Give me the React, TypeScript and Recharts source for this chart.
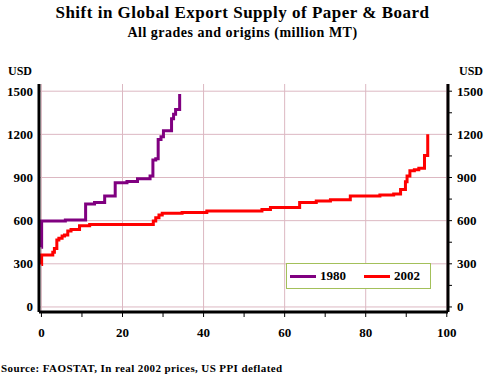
import React from "react";
import { LineChart, Line, XAxis, YAxis, CartesianGrid } from "recharts";

// Series 1980: cumulative export supply (million MT) vs price (USD)
const supply1980 = [0, 0.05, 5.9, 10.9, 13.1, 15.6, 18.2, 21.1, 23.7, 26.8, 27.5, 28.2, 28.8, 29.5, 30.1, 32.1, 32.6, 33.1, 34.1];
const usd1980 = [415, 597, 604, 715, 727, 771, 863, 873, 891, 910, 1021, 1030, 1164, 1183, 1225, 1308, 1340, 1373, 1480];

// Series 2002
const supply2002 = [0, 0.05, 2.8, 3.2, 3.8, 4.3, 5.1, 5.7, 6.5, 7.3, 9.4, 11.9, 27.6, 28.2, 29.0, 29.8, 34.7, 40.8, 54.4, 56.5, 63.7, 67.8, 71.3, 76.2, 83.5, 86.9, 88.6, 89.8, 90.2, 90.9, 92.0, 93.1, 94.5, 95.3];
const usd2002 = [296, 361, 380, 407, 465, 477, 493, 500, 528, 539, 565, 574, 597, 620, 639, 651, 657, 667, 678, 692, 727, 736, 745, 771, 778, 785, 817, 870, 910, 947, 954, 965, 1053, 1200];

const xTicks = [0, 10, 20, 30, 40, 50, 60, 70, 80, 90, 100];
const xLabelTicks = [0, 20, 40, 60, 80, 100];
const yTicks = [0, 300, 600, 900, 1200, 1500];
const yMinorTicks = [0, 150, 300, 450, 600, 750, 900, 1050, 1200, 1350, 1500];

const seriesNames = ["1980", "2002"];
const seriesColors = ["#800080", "#ff0000"];

const data1980 = supply1980.map((x, i) => ({ x, y: usd1980[i] }));
const data2002 = supply2002.map((x, i) => ({ x, y: usd2002[i] }));

const FONT = "'Liberation Serif', 'Times New Roman', serif";

const BottomTick = (props: any) => {
  const { x, y, payload } = props;
  if (!xLabelTicks.includes(payload.value)) return <g />;
  return (
    <text x={x} y={y + 20} textAnchor="middle" fontFamily={FONT} fontWeight="bold" fontSize={13} fill="#000">
      {payload.value}
    </text>
  );
};

const LeftTick = (props: any) => {
  const { x, y, payload } = props;
  return (
    <text x={x} y={y + 4.5} textAnchor="end" fontFamily={FONT} fontWeight="bold" fontSize={13} fill="#000">
      {payload.value}
    </text>
  );
};

const RightTick = (props: any) => {
  const { x, y, payload } = props;
  if (!yTicks.includes(payload.value)) return <g />;
  return (
    <text x={x} y={y + 4.5} textAnchor="start" fontFamily={FONT} fontWeight="bold" fontSize={13} fill="#000">
      {payload.value}
    </text>
  );
};

export default function App() {
  const xDomain: [number, number] = [-0.6, 100.3];
  const yDomain: [number, number] = [-35, 1550];
  return (
    <div style={{ position: "absolute", left: 0, top: 0, width: 495, height: 376, background: "#fff", fontFamily: FONT }}>
      <div style={{ position: "absolute", left: 0, top: 3, width: 485, textAlign: "center", fontWeight: "bold", fontSize: 17, letterSpacing: 0.5 }}>
        Shift in Global Export Supply of Paper &amp; Board
      </div>
      <div style={{ position: "absolute", left: 0, top: 25, width: 485, textAlign: "center", fontWeight: "bold", fontSize: 14, letterSpacing: 0.5 }}>
        All grades and origins (million MT)
      </div>
      <div style={{ position: "absolute", left: 8, top: 64, fontWeight: "bold", fontSize: 12 }}>USD</div>
      <div style={{ position: "absolute", left: 459, top: 64, fontWeight: "bold", fontSize: 12 }}>USD</div>
      <LineChart width={495} height={376} data={data2002} margin={{ top: 84, right: 0, bottom: 0, left: 0 }}>
        <CartesianGrid stroke="#dcb8c2" strokeWidth={1} horizontalValues={yTicks} verticalValues={xLabelTicks} />
        <XAxis
          type="number"
          dataKey="x"
          domain={xDomain}
          allowDataOverflow
          ticks={xTicks}
          interval={0}
          height={64}
          tickSize={5}
          tickMargin={0}
          axisLine={{ stroke: "#000", strokeWidth: 3 }}
          tickLine={{ stroke: "#000", strokeWidth: 1 }}
          tick={<BottomTick />}
        />
        <XAxis
          xAxisId="top"
          orientation="top"
          type="number"
          dataKey="x"
          domain={xDomain}
          allowDataOverflow
          height={0}
          tick={false}
          tickLine={false}
          axisLine={{ stroke: "#000", strokeWidth: 3 }}
        />
        <YAxis
          type="number"
          domain={yDomain}
          allowDataOverflow
          ticks={yTicks}
          interval={0}
          width={39}
          tickSize={0}
          tickMargin={6}
          tickLine={false}
          axisLine={{ stroke: "#000", strokeWidth: 3 }}
          tick={<LeftTick />}
        />
        <YAxis
          yAxisId="right"
          orientation="right"
          type="number"
          domain={yDomain}
          allowDataOverflow
          ticks={yMinorTicks}
          interval={0}
          width={47}
          tickSize={4}
          tickMargin={5}
          tickLine={{ stroke: "#000", strokeWidth: 1 }}
          axisLine={{ stroke: "#000", strokeWidth: 3 }}
          tick={<RightTick />}
        />
        <Line
          data={data1980}
          dataKey="y"
          name={seriesNames[0]}
          type="stepAfter"
          stroke={seriesColors[0]}
          strokeWidth={3}
          dot={false}
          isAnimationActive={false}
        />
        <Line
          data={data2002}
          dataKey="y"
          name={seriesNames[1]}
          type="stepAfter"
          stroke={seriesColors[1]}
          strokeWidth={3}
          dot={false}
          isAnimationActive={false}
        />
      </LineChart>
      <div
        style={{
          position: "absolute",
          left: 286,
          top: 263,
          width: 143,
          height: 24,
          border: "1px solid #a3c05a",
          background: "#fff",
          fontWeight: "bold",
          fontSize: 13,
        }}
      >
        <div style={{ position: "absolute", left: 3, top: 11, width: 26, height: 3, background: seriesColors[0] }} />
        <div style={{ position: "absolute", left: 33, top: 4 }}>{seriesNames[0]}</div>
        <div style={{ position: "absolute", left: 77, top: 11, width: 26, height: 3, background: seriesColors[1] }} />
        <div style={{ position: "absolute", left: 107, top: 4 }}>{seriesNames[1]}</div>
      </div>
      <div style={{ position: "absolute", left: 1, top: 362, fontWeight: "bold", fontSize: 11, letterSpacing: 0.4, whiteSpace: "nowrap" }}>
        Source: FAOSTAT, In real 2002 prices, US PPI deflated
      </div>
    </div>
  );
}
